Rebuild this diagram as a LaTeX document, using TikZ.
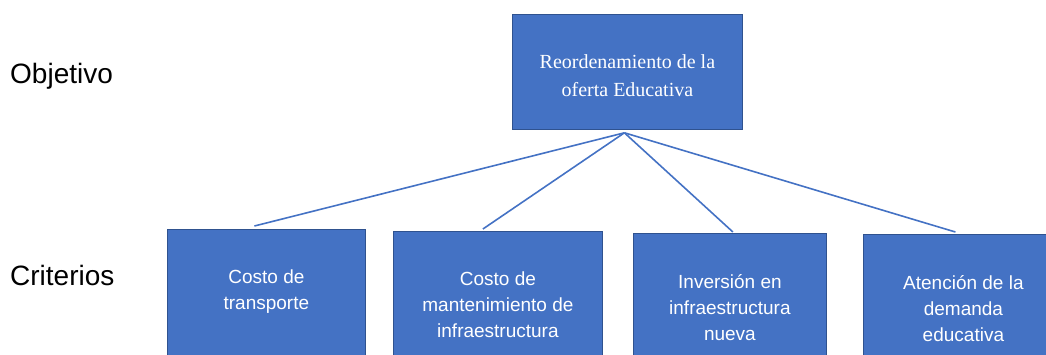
\documentclass[tikz,border=0pt]{standalone}
\usepackage{fontspec}
\setmainfont{Liberation Serif}
\setsansfont{Liberation Sans}
\usepackage{tikz}
\definecolor{boxblue}{HTML}{4472C4}
\definecolor{boxedge}{HTML}{2F528F}

\begin{document}
\begin{tikzpicture}[x=1pt,y=-1pt,
  level/.style={font=\sffamily\fontsize{28}{34}\selectfont,anchor=base west,inner sep=0pt},
  bluebox/.style={draw=boxedge,fill=boxblue,line width=0.8pt,anchor=north west,inner sep=0pt},
  goaltext/.style={text=white,font=\fontsize{20}{28}\selectfont,align=center},
  crittext/.style={text=white,font=\sffamily\fontsize{19}{26}\selectfont,align=center,anchor=north,inner sep=0pt},
  link/.style={draw=boxblue,line width=1.6pt}]
  \useasboundingbox (0,0) rectangle (1046,354);
  \clip (0,0) rectangle (1046,354);

  % row labels
  \node[level] (objlabel) at (10,83) {Objetivo};
  \node[level] (critlabel) at (10,285) {Criterios};

  % goal
  \node[bluebox,minimum width=230pt,minimum height=115pt] (goal) at (512,14) {};
  \node[goaltext] (goaltxt) at ([yshift=-4pt]goal.center) {Reordenamiento de la\\oferta Educativa};

  % criteria
  \node[bluebox,minimum width=198pt,minimum height=160pt] (crit1) at (167,229) {};
  \node[bluebox,minimum width=209pt,minimum height=160pt] (crit2) at (393,231) {};
  \node[bluebox,minimum width=193pt,minimum height=160pt] (crit3) at (633,233) {};
  \node[bluebox,minimum width=210pt,minimum height=160pt] (crit4) at (863,234) {};

  \node[crittext] (crit1txt) at ([yshift=-41pt]crit1.north) {Costo de\\transporte};
  \node[crittext] (crit2txt) at ([yshift=-41pt]crit2.north) {Costo de\\mantenimiento de\\infraestructura};
  \node[crittext] (crit3txt) at ([yshift=-41pt]crit3.north) {Inversión en\\infraestructura\\nueva};
  \node[crittext] (crit4txt) at ([xshift=-5pt,yshift=-41pt]crit4.north) {Atención de la\\demanda\\educativa};

  % links
  \coordinate (hub) at ([xshift=-3pt,yshift=-3pt]goal.south);
  \draw[link] (hub) -- ([xshift=-12pt,yshift=3pt]crit1.north);
  \draw[link] (hub) -- ([xshift=-15pt,yshift=2pt]crit2.north);
  \draw[link] (hub) -- ([xshift=3pt,yshift=1pt]crit3.north);
  \draw[link] (hub) -- ([xshift=-13pt,yshift=2pt]crit4.north);
\end{tikzpicture}
\end{document}
